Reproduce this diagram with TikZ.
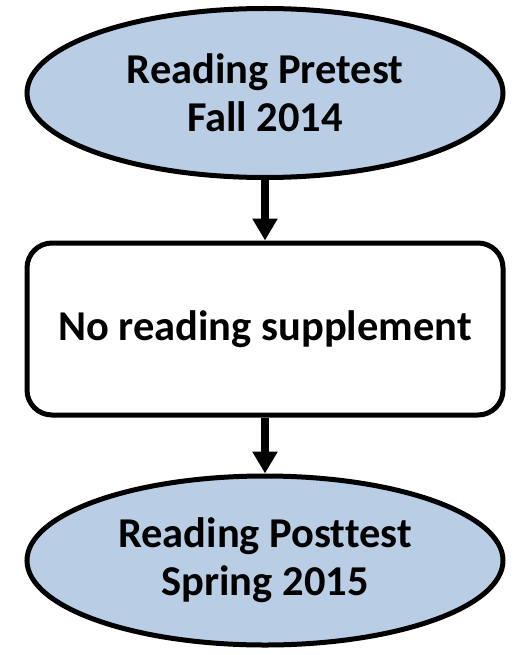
\documentclass[tikz,border=0pt]{standalone}
\usepackage{fontspec}
\setmainfont{Carlito}[Ligatures=NoCommon]
\usetikzlibrary{shapes.geometric,arrows.meta}
\definecolor{ovalblue}{HTML}{B9CDE4}
\begin{document}
\begin{tikzpicture}[x=1pt,y=-1pt,
  every node/.style={font=\fontsize{42.5}{48}\selectfont\bfseries, align=center, inner sep=0pt},
  ovalbox/.style={ellipse, draw, line width=5pt, fill=ovalblue, minimum width=476pt, minimum height=169pt},
  rectbox/.style={rectangle, rounded corners=25pt, draw, line width=5pt, fill=white, minimum width=476pt, minimum height=172pt},
  flowarrow/.style={line width=8pt, -{Triangle[width=24pt,length=22pt]}}
]
\useasboundingbox (0,0) rectangle (512,655);
\node[ovalbox] (pre) at (265,93) {Reading Pretest\\Fall 2014};
\node[rectbox] (mid) at (265,329) {No reading supplement};
\node[ovalbox] (post) at (265,560.5) {Reading Posttest\\Spring 2015};
\draw[flowarrow] (pre.south) -- (mid.north);
\draw[flowarrow] (mid.south) -- (post.north);
\end{tikzpicture}
\end{document}
